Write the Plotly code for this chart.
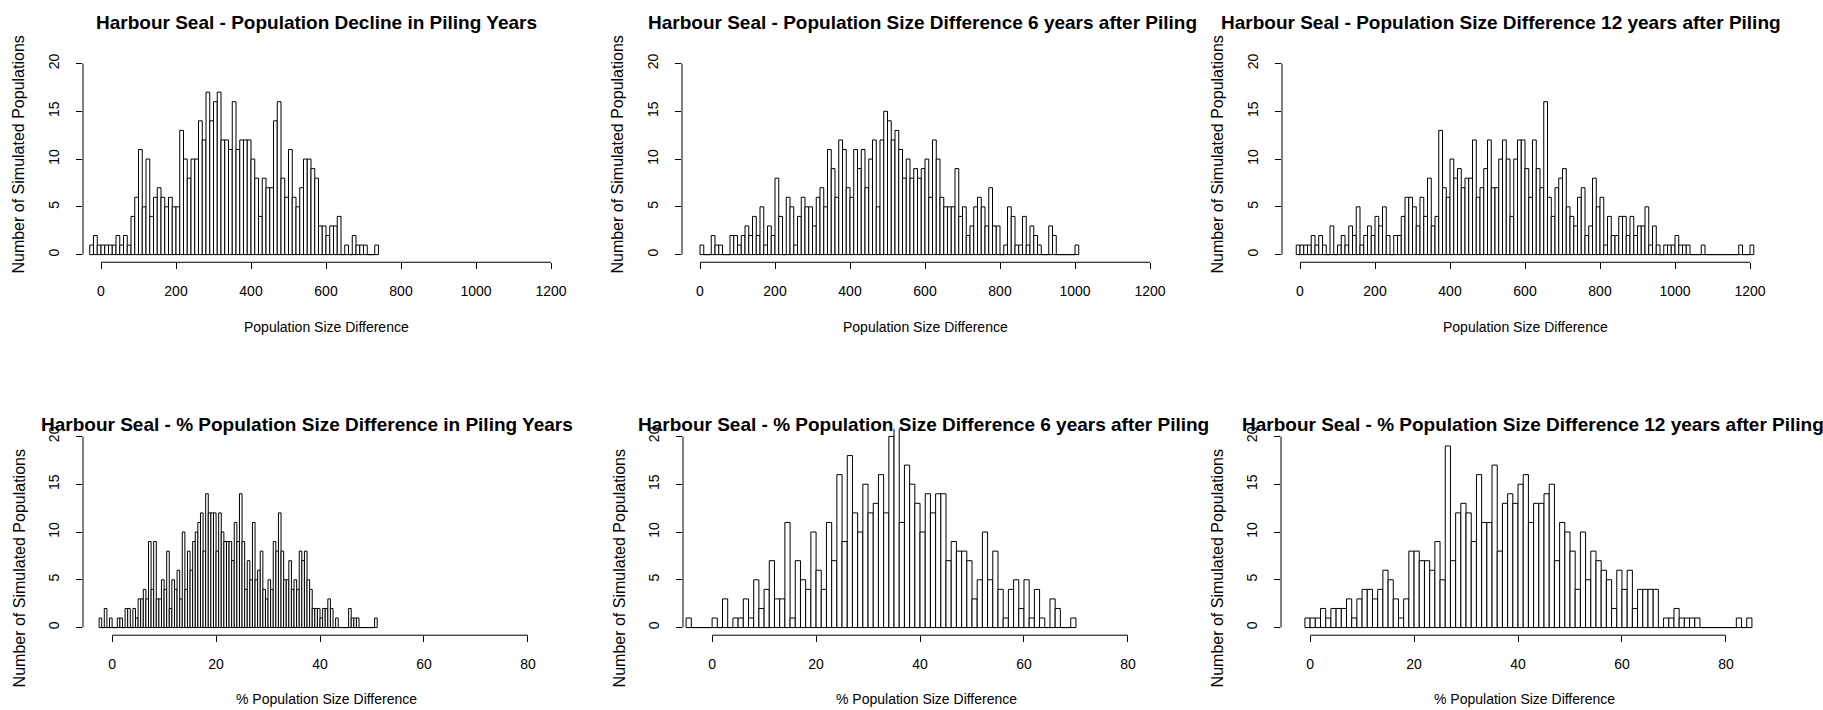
import numpy as np
import plotly.graph_objects as go

W, H = 1823, 710

# ------------------------------------------------------------------ data
titles = [
    "Harbour Seal - Population Decline in Piling Years",
    "Harbour Seal - Population Size Difference 6 years after Piling",
    "Harbour Seal - Population Size Difference 12 years after Piling",
    "Harbour Seal - % Population Size Difference in Piling Years",
    "Harbour Seal - % Population Size Difference 6 years after Piling",
    "Harbour Seal - % Population Size Difference 12 years after Piling",
]
x_labels = ["Population Size Difference"] * 3 + ["% Population Size Difference"] * 3
y_label = "Number of Simulated Populations"

top_ticks = [0, 200, 400, 600, 800, 1000, 1200]
bottom_ticks = [0, 20, 40, 60, 80]
y_ticks = [0, 5, 10, 15, 20]

# panel 1: population decline in piling years (bins of 10 starting at -30)
p1_start, p1_width = -30, 10
p1_counts = [1, 2, 1, 1, 1, 1, 1, 2, 1, 2, 1,
             4, 6, 11, 5, 10, 4, 6, 7, 6, 5, 6, 5, 5,
             13, 10, 8, 10, 10, 14, 12, 17, 14, 16, 17, 12, 12, 11, 16, 11, 12, 12, 12, 10,
             8, 4, 8, 7, 7, 14, 16, 8, 6, 11, 6, 5, 7, 10, 10, 9, 8,
             3, 3, 2, 3, 3, 4, 0, 1, 0, 2, 1, 1, 1, 0, 0, 1]

# panel 2: size difference 6 years after piling (bins of 10 starting at 0)
p2_start, p2_width = 0, 10
p2_counts = [1, 0, 0, 2, 1, 1, 0, 0, 2, 2,
             1, 2, 3, 2, 4, 2, 5, 1, 3, 2,
             8, 4, 0, 6, 5, 1, 4, 6, 5, 5,
             3, 6, 7, 5, 11, 9, 6, 12, 11, 7,
             6, 11, 9, 11, 7, 10, 12, 5, 12, 15,
             14, 12, 13, 11, 8, 10, 8, 9, 8, 9,
             10, 6, 12, 10, 6, 5, 5, 5, 9, 4,
             5, 2, 3, 5, 6, 5, 3, 7, 3, 3,
             0, 1, 5, 4, 1, 1, 4, 1, 3, 2,
             1, 0, 0, 3, 2, 0, 0, 0, 0, 0,
             1]

# panel 3: size difference 12 years after piling (bins of 10 starting at -10)
p3_start, p3_width = -10, 10
p3_counts = [1, 1, 1, 1, 2, 1, 2, 1, 0, 3, 0,
             1, 2, 1, 3, 2, 5, 1, 2, 3, 2,
             4, 3, 5, 2, 0, 2, 2, 4, 6, 6,
             5, 3, 6, 4, 8, 3, 4, 13, 7, 6,
             10, 8, 9, 7, 8, 8, 12, 6, 7, 9,
             12, 7, 7, 10, 12, 10, 4, 10, 12, 12,
             9, 6, 12, 9, 7, 16, 6, 4, 7, 8,
             9, 5, 4, 3, 6, 7, 2, 3, 8, 5,
             6, 1, 4, 2, 2, 4, 4, 2, 4, 2,
             3, 3, 5, 1, 3, 1, 0, 1, 1, 1,
             2, 1, 1, 1, 0, 0, 0, 1, 0, 0,
             0, 0, 0, 0, 0, 0, 0, 1, 0, 0,
             1]

# panel 4: % difference in piling years (bins of 0.5 starting at -2.5)
p4_start, p4_width = -2.5, 0.5
p4_counts = [1, 0, 2, 0, 1, 0, 0, 1, 1, 0,
             2, 2, 0, 2, 1, 3, 3, 4, 3, 9,
             4, 9, 3, 3, 5, 4, 8, 2, 5, 4,
             6, 3, 10, 4, 8, 6, 9, 10, 11, 12,
             8, 14, 12, 12, 12, 8, 12, 10, 9, 9,
             9, 7, 11, 9, 14, 9, 4, 7, 5, 11,
             5, 6, 8, 4, 3, 5, 4, 9, 8, 12,
             8, 5, 5, 7, 4, 5, 4, 8, 7, 8,
             5, 4, 2, 2, 2, 1, 2, 2, 3, 2,
             0, 1, 0, 0, 0, 0, 2, 1, 1, 1,
             0, 0, 0, 0, 0, 0, 1]

# panel 5: % difference 6 years after piling (bins of 1 starting at -5)
p5_start, p5_width = -5, 1
p5_counts = [1, 0, 0, 0, 0, 1, 0, 3, 0, 1,
             1, 3, 1, 5, 2, 4, 7, 3, 3, 11,
             1, 7, 5, 4, 10, 6, 4, 11, 7, 16,
             9, 18, 12, 10, 15, 12, 13, 16, 12, 20,
             21, 11, 17, 15, 13, 10, 14, 12, 14, 14,
             7, 9, 8, 8, 7, 3, 5, 10, 5, 8,
             4, 1, 4, 5, 2, 5, 1, 4, 1, 0,
             3, 2, 0, 0, 1]

# panel 6: % difference 12 years after piling (bins of 1 starting at -1)
p6_start, p6_width = -1, 1
p6_counts = [1, 1, 1, 2, 1, 2, 2, 2, 3, 1,
             3, 4, 4, 3, 4, 6, 5, 3, 1, 3,
             8, 8, 7, 7, 6, 9, 5, 19, 7, 12,
             13, 12, 9, 16, 11, 11, 17, 8, 13, 14,
             13, 15, 16, 11, 13, 13, 14, 15, 7, 11,
             10, 8, 4, 10, 5, 8, 7, 6, 5, 2,
             6, 4, 6, 2, 4, 4, 4, 4, 0, 1,
             1, 2, 1, 1, 1, 1, 0, 0, 0, 0,
             0, 0, 0, 1, 0, 1]

panels = [
    (p1_start, p1_width, p1_counts, top_ticks),
    (p2_start, p2_width, p2_counts, top_ticks),
    (p3_start, p3_width, p3_counts, top_ticks),
    (p4_start, p4_width, p4_counts, bottom_ticks),
    (p5_start, p5_width, p5_counts, bottom_ticks),
    (p6_start, p6_width, p6_counts, bottom_ticks),
]

# ------------------------------------------------------------------ layout (pixels)
top_xrange = [-48, 1248]
bottom_xrange = [-5.6, 87.9]
y_range = [-0.8, 20.8]
col_left_top = [83, 682, 1282]
col_left_bottom = [83, 683, 1281]
plot_w = 486
row_top = [(54, 261), (428, 635)]
title_x = [316, 922, 1501, 307, 924, 1533]
title_y = [21, 424]
xlabel_y = [326, 699]
ylabel_dx = 64
ylabel_cy = [153, 568]

FONT = "Liberation Sans, Arial, sans-serif"

fig = go.Figure()
shapes = []
annotations = []
layout_axes = {}

for i, (start, bw, counts, xt) in enumerate(panels):
    k = i + 1
    sfx = "" if k == 1 else str(k)
    counts = np.asarray(counts, dtype=float)
    centers = start + bw * (np.arange(len(counts)) + 0.5)
    fig.add_trace(go.Bar(
        x=centers, y=counts, width=bw,
        xaxis="x" + sfx, yaxis="y" + sfx,
        marker=dict(color="white", line=dict(color="black", width=1)),
        showlegend=False, hoverinfo="x+y",
    ))

    row = 0 if i < 3 else 1
    col = i % 3
    left = (col_left_top if row == 0 else col_left_bottom)[col]
    right = left + plot_w
    top, bottom = row_top[row]
    xr = top_xrange if row == 0 else bottom_xrange

    tickfont = dict(family=FONT, size=14, color="black")
    layout_axes["xaxis" + sfx] = dict(
        domain=[left / W, right / W], range=xr, anchor="y" + sfx,
        tickmode="array", tickvals=xt, ticks="outside", ticklen=6,
        tickcolor="black", tickwidth=1, showgrid=False, zeroline=False,
        showline=False, tickfont=tickfont, ticklabelstandoff=10,
        fixedrange=True,
    )
    layout_axes["yaxis" + sfx] = dict(
        domain=[1 - bottom / H, 1 - top / H], range=y_range, anchor="x" + sfx,
        tickmode="array", tickvals=y_ticks, ticks="outside", ticklen=6,
        tickcolor="black", tickwidth=1, showgrid=False, zeroline=False,
        showline=False, tickfont=tickfont, tickangle=-90,
        ticklabelstandoff=11, fixedrange=True,
    )
    # R-style axis lines spanning only the tick range
    shapes.append(dict(type="line", xref="x" + sfx, yref=("y" + sfx) + " domain",
                       x0=xt[0], x1=xt[-1], y0=0, y1=0,
                       line=dict(color="black", width=1)))
    shapes.append(dict(type="line", xref=("x" + sfx) + " domain", yref="y" + sfx,
                       x0=0, x1=0, y0=y_ticks[0], y1=y_ticks[-1],
                       line=dict(color="black", width=1)))

    annotations.append(dict(
        text=titles[i], xref="paper", yref="paper",
        x=title_x[i] / W, y=1 - title_y[row] / H, xanchor="center", yanchor="middle",
        showarrow=False, font=dict(family=FONT, size=19, color="black", weight="bold"),
    ))
    annotations.append(dict(
        text=x_labels[i], xref="paper", yref="paper",
        x=(left + right) / 2 / W, y=1 - xlabel_y[row] / H,
        xanchor="center", yanchor="middle", showarrow=False,
        font=dict(family=FONT, size=14, color="black"),
    ))
    annotations.append(dict(
        text=y_label, xref="paper", yref="paper",
        x=(left - ylabel_dx) / W, y=1 - ylabel_cy[row] / H,
        xanchor="center", yanchor="middle", textangle=-90, showarrow=False,
        font=dict(family=FONT, size=16, color="black"),
    ))

fig.update_layout(
    width=W, height=H, autosize=False,
    margin=dict(l=0, r=0, t=0, b=0),
    paper_bgcolor="white", plot_bgcolor="white",
    shapes=shapes, annotations=annotations,
    **layout_axes,
)

fig.write_html("out.html")
